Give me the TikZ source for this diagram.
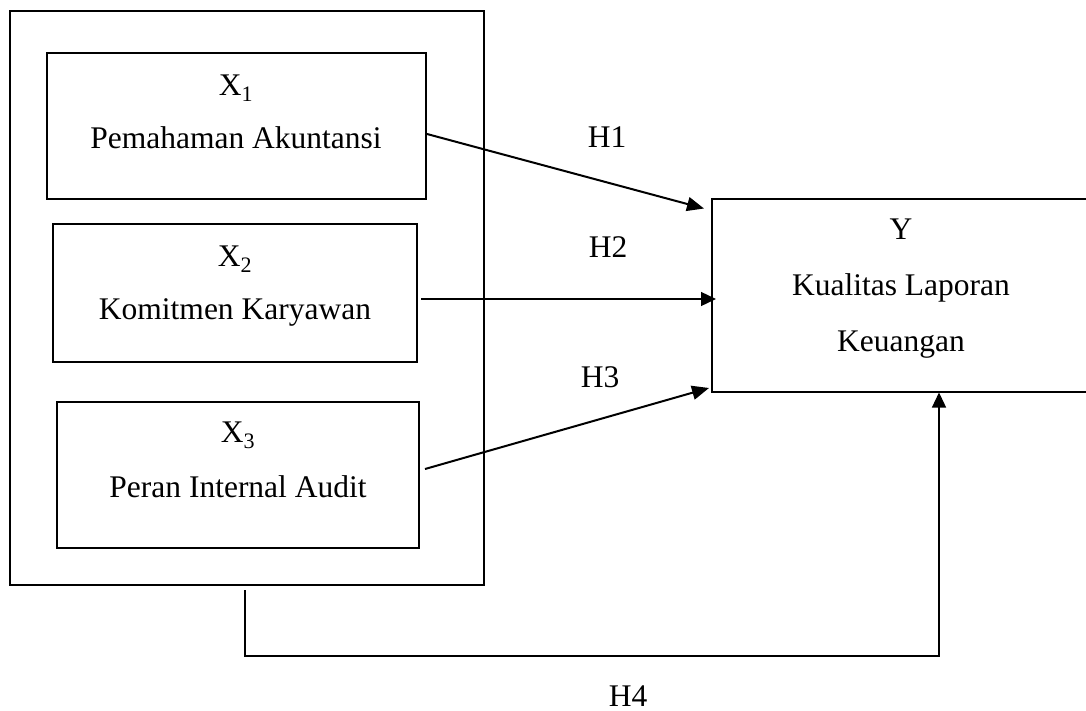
\documentclass[tikz,border=0pt]{standalone}
\usepackage{fontspec}
\setmainfont{Liberation Serif}
\usetikzlibrary{arrows.meta}
\begin{document}
\begin{tikzpicture}[x=1pt,y=-1pt,
  box/.style={draw,line width=2pt,inner sep=0pt,rectangle},
  lbl/.style={font=\fontsize{31.5}{36}\selectfont,anchor=base,inner sep=0pt},
  thick arrow/.style={line width=2pt,-{Triangle[length=17pt,width=14pt]}},
  thin arrow/.style={line width=1.3pt,-{Triangle[length=15pt,width=14pt]}}]
\clip (0,0) rectangle (1086,711);
\fill[white] (0,0) rectangle (1086,711);
% boxes
\node[box,minimum width=474pt,minimum height=574pt] (outer) at (246.5,298) {};
\node[box,minimum width=379pt,minimum height=146pt] (X1) at (236.5,126) {};
\node[box,minimum width=364pt,minimum height=138pt] (X2) at (235,293) {};
\node[box,minimum width=362pt,minimum height=146pt] (X3) at (238,475) {};
\node[box,minimum width=380pt,minimum height=192pt] (Y) at (902,295.5) {};
% texts
\node[lbl] (tx1) at (236,96) {X\textsubscript{1}};
\node[lbl] (tx1b) at (236,149) {Pemahaman Akuntansi};
\node[lbl] (tx2) at (235,266) {X\textsubscript{2}};
\node[lbl] (tx2b) at (235,319) {Komitmen Karyawan};
\node[lbl] (tx3) at (238,442) {X\textsubscript{3}};
\node[lbl] (tx3b) at (238,497) {Peran Internal Audit};
\node[lbl] (ty) at (901,240) {Y};
\node[lbl] (tyb) at (901,295) {Kualitas Laporan};
\node[lbl] (tyc) at (901,351) {Keuangan};
\node[lbl] (h1) at (607,148) {H1};
\node[lbl] (h2) at (608,258) {H2};
\node[lbl] (h3) at (600,387) {H3};
\node[lbl] (h4) at (628,706) {H4};
% connectors
\draw[thick arrow] ([yshift=-8pt]X1.east) -- ([xshift=-7pt,yshift=-10pt]Y.north west);
\draw[thin arrow] ([xshift=3pt,yshift=-6pt]X2.east) -- ([xshift=5pt,yshift=-3.5pt]Y.west);
\draw[thick arrow] ([xshift=5pt,yshift=6pt]X3.east) -- ([xshift=-2pt,yshift=4.5pt]Y.south west);
\coordinate (c1) at ([xshift=-1.5pt,yshift=-4pt]outer.south);
\coordinate (c2) at (c1 |- 0,656);
\coordinate (c3) at (939,656);
\draw[thin arrow] (c1) -- (c2) -- (c3) -- (c3 |- Y.south);
\end{tikzpicture}
\end{document}
